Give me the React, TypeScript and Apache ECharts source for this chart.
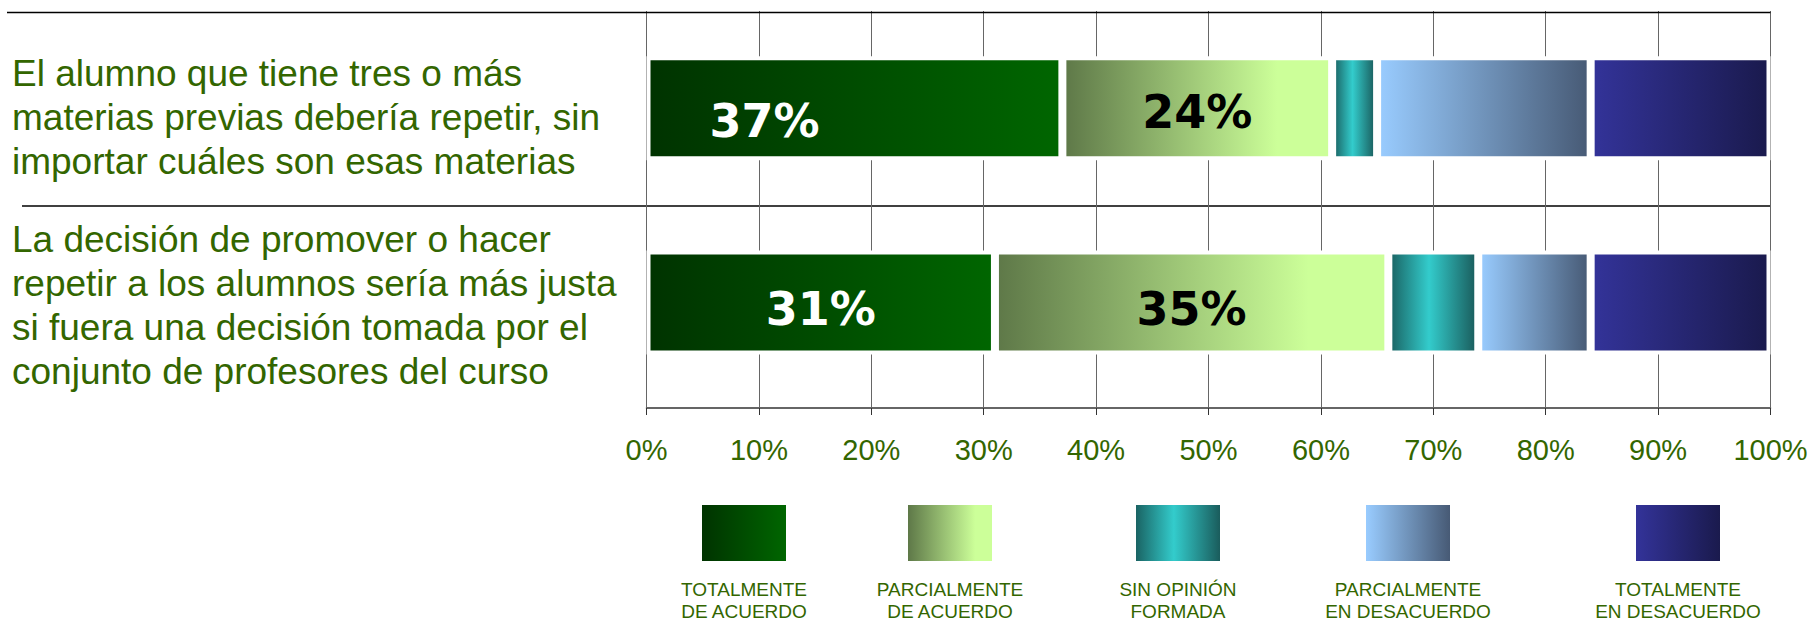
import React, { useEffect, useRef } from 'react';
import * as echarts from 'echarts';

// ---- data ----
const categories = [
  'El alumno que tiene tres o más\nmaterias previas debería repetir, sin\nimportar cuáles son esas materias',
  'La decisión de promover o hacer\nrepetir a los alumnos sería más justa\nsi fuera una decisión tomada por el\nconjunto de profesores del curso',
];
const seriesNames = [
  'TOTALMENTE\nDE ACUERDO',
  'PARCIALMENTE\nDE ACUERDO',
  'SIN OPINIÓN\nFORMADA',
  'PARCIALMENTE\nEN DESACUERDO',
  'TOTALMENTE\nEN DESACUERDO',
];
const totalmenteDeAcuerdo = [37, 31];
const parcialmenteDeAcuerdo = [24, 35];
const sinOpinion = [4, 8];
const parcialmenteEnDesacuerdo = [19, 10];
const totalmenteEnDesacuerdo = [16, 16];
const seriesValues = [
  totalmenteDeAcuerdo,
  parcialmenteDeAcuerdo,
  sinOpinion,
  parcialmenteEnDesacuerdo,
  totalmenteEnDesacuerdo,
];
const labeledSeries = [true, true, false, false, false];

// ---- styles ----
const GREEN = '#336600';
const FONT = 'Liberation Sans, Arial, sans-serif';
const gradientStops: Array<Array<[number, string]>> = [
  [[0, '#003300'], [1, '#006600']],
  [[0, '#5e7848'], [0.8, '#ccff99'], [1, '#ccff99']],
  [[0, '#1a6363'], [0.45, '#33cccc'], [1, '#1a5c5c']],
  [[0, '#99ccff'], [1, '#475a75']],
  [[0, '#333399'], [1, '#1a1a4d']],
];
const makeGrad = (i: number) =>
  new echarts.graphic.LinearGradient(
    0, 0, 1, 0,
    gradientStops[i].map(([offset, color]) => ({ offset, color }))
  );

const GRID_LEFT = 646.5;
const GRID_RIGHT = 38.5;
const GRID_TOP = 11;
const GRID_BOTTOM = 224.5;
const AXIS_OFFSET = 8.5;
const rowLabelShift = [4, 7];
const firstLabelOffset: [number, number] = [-90, 12.5];
const legendCenters = [744, 950, 1178, 1408, 1678];

export default function App() {
  const ref = useRef<HTMLDivElement>(null);
  useEffect(() => {
    if (!ref.current) return;
    const chart = echarts.init(ref.current, undefined, { renderer: 'svg' });

    const graphics: any[] = [
      {
        type: 'line',
        shape: { x1: 7, y1: 12.5, x2: 1809 - GRID_RIGHT, y2: 12.5 },
        style: { stroke: '#000', lineWidth: 1.5 },
        z: 10,
      },
      {
        type: 'line',
        shape: { x1: 22, y1: 206, x2: 1809 - GRID_RIGHT, y2: 206 },
        style: { stroke: '#000', lineWidth: 1.5 },
        z: 0,
      },
    ];
    seriesNames.forEach((name, i) => {
      const cx = legendCenters[i];
      graphics.push({
        type: 'rect',
        shape: { x: cx - 42, y: 505, width: 84, height: 56 },
        style: { fill: makeGrad(i) },
      });
      graphics.push({
        type: 'text',
        x: cx,
        y: 578,
        style: {
          text: name,
          fill: GREEN,
          fontSize: 19,
          fontFamily: FONT,
          align: 'center',
          verticalAlign: 'top',
          lineHeight: 22,
        },
      });
    });

    chart.setOption({
      animation: false,
      backgroundColor: '#fff',
      grid: {
        left: GRID_LEFT,
        right: GRID_RIGHT,
        top: GRID_TOP,
        bottom: GRID_BOTTOM,
        containLabel: false,
        outerBoundsMode: 'none',
      },
      xAxis: [
        {
          type: 'value',
          min: 0,
          max: 100,
          interval: 10,
          position: 'bottom',
          offset: AXIS_OFFSET,
          axisLine: { show: true, lineStyle: { color: '#333', width: 1.5 } },
          axisTick: { show: true, length: 7, lineStyle: { color: '#333' } },
          splitLine: { show: true, lineStyle: { color: '#666', width: 1 } },
          axisLabel: {
            formatter: '{value}%',
            color: GREEN,
            fontSize: 29,
            fontFamily: FONT,
            margin: 27,
            hideOverlap: false,
          },
        },
        {
          type: 'value',
          min: 0,
          max: 100,
          interval: 10,
          position: 'bottom',
          offset: AXIS_OFFSET,
          axisLine: { show: false },
          axisTick: { show: true, inside: true, length: AXIS_OFFSET + 0.5, lineStyle: { color: '#666' } },
          splitLine: { show: false },
          axisLabel: { show: false },
        },
      ],
      yAxis: {
        type: 'category',
        inverse: true,
        data: categories,
        axisLine: { show: false },
        axisTick: { show: false },
        splitLine: { show: false },
        axisLabel: {
          align: 'left',
          verticalAlign: 'middle',
          margin: GRID_LEFT - 12,
          color: GREEN,
          fontSize: 37,
          lineHeight: 44,
          fontFamily: FONT,
          formatter: (value: string, index: number) => {
            const lines = value.split('\n').map((l) => `{t|${l}}`).join('\n');
            return index === 0 ? `{sp1| }\n${lines}` : `{sp2| }\n${lines}`;
          },
          rich: {
            t: { color: GREEN, fontSize: 37, lineHeight: 44, fontFamily: FONT },
            sp1: { fontSize: 4, lineHeight: 19 },
            sp2: { fontSize: 4, lineHeight: 6 },
          },
        },
      },
      series: seriesNames.map((name, i) => ({
        type: 'bar',
        name,
        stack: 'total',
        xAxisIndex: 0,
        barWidth: 104,
        data: seriesValues[i].map((v, j) => ({
          value: v,
          label: { offset: i === 0 && j === 0 ? firstLabelOffset : [0, rowLabelShift[j]] },
        })),
        itemStyle: { color: makeGrad(i), borderColor: '#fff', borderWidth: 4 },
        label: {
          show: labeledSeries[i],
          position: 'inside',
          formatter: '{c}%',
          color: i === 0 ? '#fff' : '#000',
          fontFamily: 'DejaVu Sans, sans-serif',
          fontWeight: 'bold',
          fontSize: 46,
        },
      })),
      graphic: graphics,
    });
    return () => chart.dispose();
  }, []);

  return (
    <div
      ref={ref}
      style={{ position: 'absolute', left: 0, top: 0, width: 1809, height: 624, background: '#fff' }}
    />
  );
}
